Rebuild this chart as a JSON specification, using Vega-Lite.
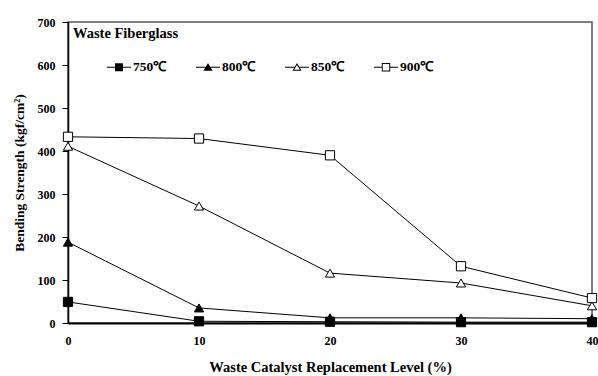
{
  "$schema": "https://vega.github.io/schema/vega-lite/v6.json",
  "width": 524,
  "height": 301,
  "autosize": {"type": "none"},
  "padding": {"left": 68, "top": 22, "right": 6, "bottom": 53},
  "background": "white",
  "config": {
    "font": "Liberation Serif",
    "view": {"stroke": "#555555", "strokeWidth": 1.5}
  },
  "data": {
    "values": [
      {"level": 0, "strength": 49, "series": "750℃"},
      {"level": 10, "strength": 4, "series": "750℃"},
      {"level": 20, "strength": 3, "series": "750℃"},
      {"level": 30, "strength": 2, "series": "750℃"},
      {"level": 40, "strength": 2, "series": "750℃"},
      {"level": 0, "strength": 188, "series": "800℃"},
      {"level": 10, "strength": 35, "series": "800℃"},
      {"level": 20, "strength": 12, "series": "800℃"},
      {"level": 30, "strength": 12, "series": "800℃"},
      {"level": 40, "strength": 10, "series": "800℃"},
      {"level": 0, "strength": 411, "series": "850℃"},
      {"level": 10, "strength": 272, "series": "850℃"},
      {"level": 20, "strength": 116, "series": "850℃"},
      {"level": 30, "strength": 93, "series": "850℃"},
      {"level": 40, "strength": 40, "series": "850℃"},
      {"level": 0, "strength": 433, "series": "900℃"},
      {"level": 10, "strength": 429, "series": "900℃"},
      {"level": 20, "strength": 390, "series": "900℃"},
      {"level": 30, "strength": 132, "series": "900℃"},
      {"level": 40, "strength": 58, "series": "900℃"}
    ]
  },
  "encoding": {
    "x": {
      "field": "level",
      "type": "quantitative",
      "scale": {"domain": [0, 40], "nice": false, "zero": false},
      "axis": {
        "values": [0, 10, 20, 30, 40],
        "grid": false,
        "ticks": false,
        "tickSize": 0,
        "domainColor": "black",
        "domainWidth": 2,
        "labelFont": "Liberation Serif",
        "labelFontWeight": "bold",
        "labelFontSize": 12,
        "labelColor": "black",
        "labelPadding": 12,
        "labelFlush": false,
        "title": "Waste Catalyst Replacement Level (%)",
        "titleFont": "Liberation Serif",
        "titleFontWeight": "bold",
        "titleFontSize": 14.5,
        "titleColor": "black",
        "titlePadding": 14
      }
    },
    "y": {
      "field": "strength",
      "type": "quantitative",
      "scale": {"domain": [0, 700], "nice": false},
      "axis": {
        "values": [0, 100, 200, 300, 400, 500, 600, 700],
        "grid": false,
        "ticks": true,
        "tickSize": 6,
        "tickColor": "black",
        "domainColor": "black",
        "domainWidth": 1.5,
        "labelFont": "Liberation Serif",
        "labelFontWeight": "bold",
        "labelFontSize": 12,
        "labelColor": "black",
        "labelPadding": 7,
        "labelFlush": false,
        "title": "Bending Strength (kgf/cm²)",
        "titleFont": "Liberation Serif",
        "titleFontWeight": "bold",
        "titleFontSize": 13.5,
        "titleColor": "black",
        "titlePadding": 11
      }
    }
  },
  "resolve": {"scale": {"shape": "independent"}},
  "layer": [
    {
      "mark": {"type": "line", "color": "black", "strokeWidth": 1},
      "encoding": {"detail": {"field": "series", "type": "nominal"}}
    },
    {
      "mark": {"type": "point", "filled": true, "stroke": "black", "strokeWidth": 1, "opacity": 1, "size": 85},
      "encoding": {
        "fill": {
          "field": "series",
          "type": "nominal",
          "scale": {"domain": ["750℃", "800℃", "850℃", "900℃"], "range": ["black", "black", "white", "white"]},
          "legend": null
        },
        "shape": {
          "field": "series",
          "type": "nominal",
          "scale": {"domain": ["750℃", "800℃", "850℃", "900℃"], "range": ["square", "triangle-up", "triangle-up", "square"]},
          "legend": null
        }
      }
    },
    {
      "transform": [{"filter": "datum.level > 1000"}],
      "mark": {"type": "point", "filled": true, "color": "black", "opacity": 1, "size": 576},
      "encoding": {
        "shape": {
          "field": "series",
          "type": "nominal",
          "scale": {
            "domain": ["750℃", "800℃", "850℃", "900℃"],
            "range": [
              "M-1,-0.042H-0.33V-0.33H0.33V-0.042H1V0.042H0.33V0.33H-0.33V0.042H-1Z",
              "M-1,-0.042H-0.2V0.042H-1Z M0.2,-0.042H1V0.042H0.2Z M0,-0.36L0.38,0.3H-0.38Z",
              "M-1,-0.042H-0.2V0.042H-1Z M0.2,-0.042H1V0.042H0.2Z M0,-0.36L0.38,0.3H-0.38Z M0,-0.193L-0.236,0.217H0.236Z",
              "M-1,-0.042H-0.35V0.042H-1Z M0.35,-0.042H1V0.042H0.35Z M-0.35,-0.35H0.35V0.35H-0.35Z M-0.27,-0.27V0.27H0.27V-0.27Z"
            ]
          },
          "legend": {
            "orient": "none",
            "legendX": 39,
            "legendY": 33,
            "direction": "horizontal",
            "columns": 4,
            "title": null,
            "padding": 0,
            "symbolSize": 576,
            "symbolFillColor": "black",
            "symbolStrokeWidth": 0,
            "symbolOpacity": 1,
            "labelFont": "Liberation Serif",
            "labelFontWeight": "bold",
            "labelFontSize": 13.5,
            "labelColor": "black",
            "labelOffset": 2,
            "columnPadding": 29
          }
        }
      }
    },
    {
      "transform": [{"filter": "datum.level === 0 && datum.series === '750℃'"}],
      "mark": {"type": "text", "text": "Waste Fiberglass", "align": "left", "baseline": "middle", "dx": 5, "font": "Liberation Serif", "fontWeight": "bold", "fontSize": 14.5, "color": "black"},
      "encoding": {
        "y": {"datum": 671, "type": "quantitative"}
      }
    }
  ]
}
